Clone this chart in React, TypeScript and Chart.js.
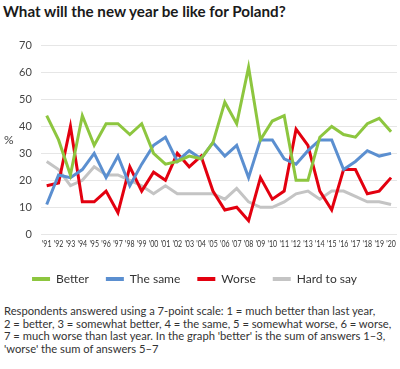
import React, { useEffect, useRef } from "react";
import { Chart, registerables } from "chart.js";

Chart.register(...registerables);

const years = ["'91","'92","'93","'94","'95","'96","'97","'98","'99","'00","'01","'02","'03","'04","'05","'06","'07","'08","'09","'10","'11","'12","'13","'14","'15","'16","'17","'18","'19","'20"];
const better = [44, 35, 22, 44, 33, 41, 41, 37, 41, 30, 26, 27, 29, 28, 34, 49, 41, 62, 35, 42, 44, 20, 20, 36, 40, 37, 36, 41, 43, 38];
const theSame = [11, 22, 21, 24, 30, 21, 29, 18, 26, 33, 36, 27, 31, 28, 34, 29, 33, 21, 35, 35, 28, 26, 31, 35, 35, 24, 27, 31, 29, 30];
const worse = [18, 19, 40, 12, 12, 16, 8, 25, 16, 23, 20, 30, 25, 29, 16, 9, 10, 5, 21, 13, 16, 39, 33, 16, 9, 24, 24, 15, 16, 21];
const hardToSay = [27, 24, 18, 20, 25, 22, 22, 20, 18, 15, 18, 15, 15, 15, 15, 13, 17, 12, 10, 10, 12, 15, 16, 13, 16, 16, 14, 12, 12, 11];
const yTicks = [0, 10, 20, 30, 40, 50, 60, 70];

const seriesNames = ["Better", "The same", "Worse", "Hard to say"];
const seriesColors = ["#8dc63f", "#5b8fd0", "#e3000f", "#c4c4c4"];

const noteLines = [
  "Respondents answered using a 7-point scale: 1 = much better than last year,",
  "2 = better, 3 = somewhat better, 4 = the same, 5 = somewhat worse, 6 = worse,",
  "7 = much worse than last year. In the graph 'better' is the sum of answers 1–3,",
  "'worse' the sum of answers 5–7",
];

const FONT = "Lato, 'Open Sans', sans-serif";

const extras = {
  id: "extras",
  afterLayout(chart: any) {
    const lg = chart.legend;
    if (lg) {
      lg.left -= 9;
      lg.right -= 9;
    }
  },
  afterDraw(chart: any) {
    const { ctx, chartArea } = chart;
    ctx.save();
    ctx.font = `12px ${FONT}`;
    ctx.fillStyle = "#444";
    ctx.textAlign = "left";
    ctx.textBaseline = "middle";
    ctx.fillText("%", 4, (chartArea.top + chartArea.bottom) / 2);
    const xs = chart.scales.x;
    ctx.font = `10px ${FONT}`;
    ctx.fillStyle = "#333";
    ctx.textAlign = "center";
    years.forEach((lab, i) => {
      const x = xs.getPixelForValue(i);
      ctx.save();
      ctx.translate(x, chartArea.bottom + 10);
      ctx.scale(0.7, 1);
      ctx.fillText(lab, 0, 0);
      ctx.restore();
    });
    ctx.restore();
  },
};

export default function App() {
  const ref = useRef<HTMLCanvasElement | null>(null);

  useEffect(() => {
    if (!ref.current) return;
    const data = [better, theSame, worse, hardToSay];
    const chart = new Chart(ref.current, {
      type: "line",
      data: {
        labels: years,
        datasets: data.map((d, i) => ({
          label: seriesNames[i],
          data: d,
          borderColor: seriesColors[i],
          backgroundColor: seriesColors[i],
          borderWidth: 3,
          pointRadius: 0,
          tension: 0,
        })),
      },
      options: {
        responsive: false,
        animation: false,
        layout: { padding: { left: 10, right: 3, top: 10, bottom: 0 } },
        plugins: {
          legend: {
            position: "bottom",
            labels: {
              boxWidth: 18,
              boxHeight: 4,
              padding: 17,
              color: "#333",
              font: { family: FONT, size: 12 },
              generateLabels(chart: any) {
                const items = Chart.defaults.plugins.legend.labels.generateLabels(chart);
                return items.map((it: any) => ({ ...it, lineWidth: 0 }));
              },
            },
          },
          tooltip: { enabled: false },
        },
        scales: {
          x: {
            offset: true,
            grid: { display: false },
            border: { display: false },
            afterFit(axis: any) {
              axis.height += 3;
            },
            ticks: {
              autoSkip: false,
              maxRotation: 0,
              minRotation: 0,
              color: "rgba(0,0,0,0)",
              padding: 0,
              font: { family: FONT, size: 9 },
            },
          },
          y: {
            min: 0,
            max: 70,
            afterBuildTicks(axis: any) {
              axis.ticks = yTicks.map((v) => ({ value: v }));
            },
            grid: { color: "#e6e6e6", lineWidth: 1, drawTicks: false },
            border: { display: false },
            ticks: {
              color: "#444",
              padding: 9,
              font: { family: FONT, size: 11 },
            },
          },
        },
      },
      plugins: [extras],
    });
    return () => chart.destroy();
  }, []);

  return (
    <div style={{ position: "absolute", left: 0, top: 0, width: 400, height: 369, background: "#fff", fontFamily: FONT }}>
      <div style={{ position: "absolute", left: 3, top: 2, fontSize: 15.2, fontWeight: 700, color: "#1a1a1a", whiteSpace: "nowrap" }}>
        What will the new year be like for Poland?
      </div>
      <canvas ref={ref} width={400} height={265} style={{ position: "absolute", left: 0, top: 30 }} />
      <div style={{ position: "absolute", left: 4, top: 305, fontSize: 11.2, lineHeight: "12.7px", color: "#333", whiteSpace: "nowrap" }}>
        {noteLines.map((l, i) => (
          <div key={i}>{l}</div>
        ))}
      </div>
    </div>
  );
}
